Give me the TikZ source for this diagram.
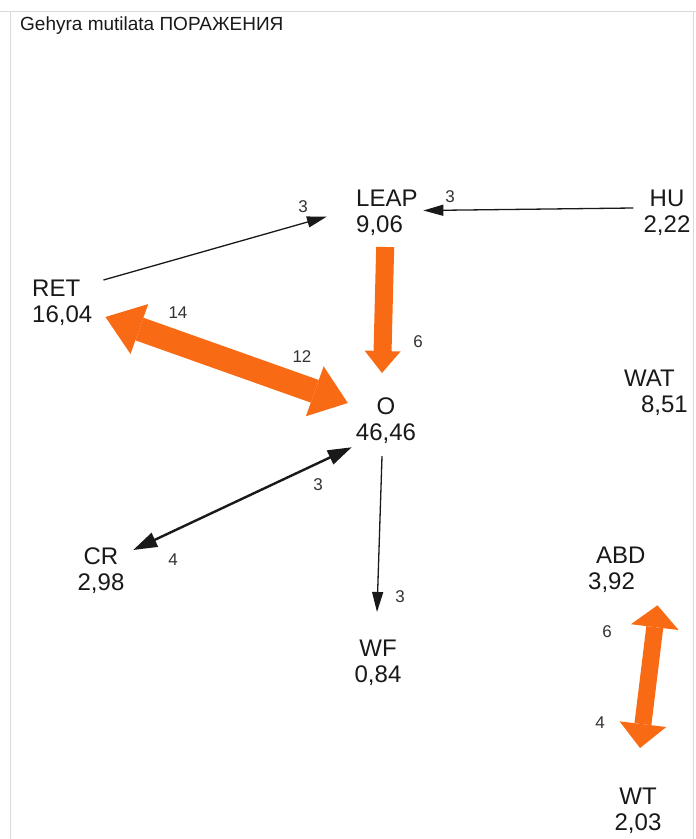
\documentclass[tikz,border=0pt]{standalone}
\usepackage{fontspec}
\setmainfont{Liberation Sans}
\usetikzlibrary{arrows.meta,calc}

\definecolor{flow}{RGB}{248,107,20}
\definecolor{numgray}{RGB}{50,50,50}
\definecolor{framegray}{RGB}{218,218,218}
\definecolor{ink}{RGB}{25,25,25}

\begin{document}
\begin{tikzpicture}[x=1pt,y=-1pt,
  state/.style={inner sep=0pt,font=\fontsize{24}{26}\selectfont,text=ink},
  count/.style={inner sep=0pt,font=\fontsize{17}{19}\selectfont,text=numgray},
  thinlink/.style={draw=ink,line width=1.3pt,-{Triangle[length=20pt,width=11pt]}},
  boldlink/.style={draw=ink,line width=2.4pt,{Triangle[length=24pt,width=15pt]}-{Triangle[length=24pt,width=15pt]}},
  orangeone/.style={draw=flow,line width=18pt,-{Triangle[length=22pt,width=36pt,line width=0pt]}},
]
\useasboundingbox (0,0) rectangle (696,839);
\fill[white] (0,0) rectangle (696,839);
% window frame
\draw[framegray,line width=1pt] (0,11) -- (696,11);
\draw[framegray,line width=1pt] (10,11) -- (10,845);
\draw[framegray,line width=1pt] (693,11) -- (693,845);

% title
\node[anchor=base west,inner sep=0pt,font=\fontsize{19}{22}\selectfont,text=ink] (title) at (20,30) {Gehyra mutilata ПОРАЖЕНИЯ};

% states with their percentages
\node[state,anchor=north west,align=left] (leap) at (356,190) {LEAP\\9,06};
\node[state,anchor=north,align=center] (hu) at (667,190) {HU\\2,22};
\node[state,anchor=north west,align=left] (ret) at (32,280) {RET\\16,04};
\node[state,anchor=north,align=center] (o) at (386,398) {O\\46,46};
\node[state,anchor=north east,align=right] (wat) at (688,370) {WAT\hspace*{13pt}\\8,51};
\node[state,anchor=north,align=center] (cr) at (101,548) {CR\\2,98};
\node[state,anchor=north,align=center] (wf) at (378,640) {WF\\0,84};
\node[state,anchor=north west,align=left] (abd) at (588,547) {\hspace*{8pt}ABD\\3,92};
\node[state,anchor=north,align=center] (wt) at (638,788) {WT\\2,03};

% thin transitions
\draw[thinlink] ($(ret.north east)+(11,0)$) -- ($(leap.west)+(-29,3.5)$);
\draw[thinlink] ($(hu.west)+(-10,-5)$) -- ($(leap.east)+(5.6,-2.5)$);
\draw[thinlink] ($(o.south)+(-4,12)$) -- ($(wf.north)+(-1,-28)$);
\draw[boldlink] ($(o.south west)+(-4,3)$) -- ($(cr.north east)+(8.6,2)$);

% heavy transitions
\draw[orangeone] ($(leap.south)+(-1.7,11)$) -- ($(o.north)+(-4,-25)$);
\draw[draw=flow,line width=24pt,{Triangle[length=36pt,width=53pt,line width=0pt]}-{Triangle[length=35pt,width=53pt,line width=0pt]}]
  ($(ret.south east)+(13,-9)$) -- ($(o.north west)+(-8,5)$);
\draw[draw=flow,line width=17pt,{Triangle[length=22pt,width=48pt,line width=0pt]}-{Triangle[length=24pt,width=47pt,line width=0pt]}]
  ($(abd.south east)+(11.7,12.3)$) -- ($(wt.north)+(2,-40)$);

% transition counts
\node[count] (c1) at (303,207) {3};
\node[count] (c2) at (450,197) {3};
\node[count] (c3) at (178,313) {14};
\node[count] (c4) at (302,357) {12};
\node[count] (c5) at (418,342) {6};
\node[count] (c6) at (318,485) {3};
\node[count] (c7) at (173,560) {4};
\node[count] (c8) at (400,597) {3};
\node[count] (c9) at (607,632) {6};
\node[count] (c10) at (600,723) {4};
\end{tikzpicture}
\end{document}
